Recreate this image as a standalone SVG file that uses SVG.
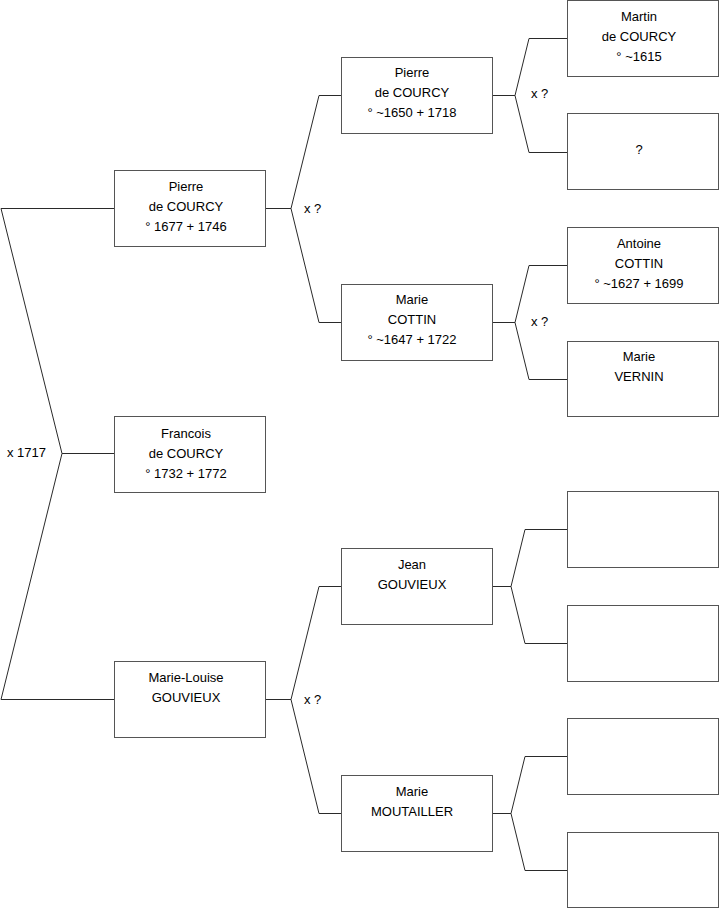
<svg xmlns="http://www.w3.org/2000/svg" width="719" height="908" viewBox="0 0 719 908">
<style>
.box{fill:#fff;stroke:#555;stroke-width:1}
.ln{fill:none;stroke:#2a2a2a;stroke-width:1}
text{font-family:"Liberation Sans",Arial,sans-serif;font-size:13px;fill:#000}
.c{text-anchor:middle}
</style>
<rect width="719" height="908" fill="#fff"/>
<g id="connectors">
<polyline class="ln" points="114,208.5 1,208.5 62,453.5 1,699.5 114,699.5"/>
<line class="ln" x1="62" y1="453.5" x2="114" y2="453.5"/>
<polyline class="ln" points="341,95.5 319,95.5 291,208.5 319,322.5 341,322.5"/>
<line class="ln" x1="265" y1="208.5" x2="291" y2="208.5"/>
<polyline class="ln" points="341,586.5 319,586.5 291,699.5 319,813.5 341,813.5"/>
<line class="ln" x1="265" y1="699.5" x2="291" y2="699.5"/>
<polyline class="ln" points="567,38.5 529,38.5 515,95.5 529,152.5 567,152.5"/>
<line class="ln" x1="492" y1="95.5" x2="515" y2="95.5"/>
<polyline class="ln" points="567,265.5 529,265.5 515,322.5 529,379.5 567,379.5"/>
<line class="ln" x1="492" y1="322.5" x2="515" y2="322.5"/>
<polyline class="ln" points="567,529.5 525,529.5 511,586.5 525,643.5 567,643.5"/>
<line class="ln" x1="492" y1="586.5" x2="511" y2="586.5"/>
<polyline class="ln" points="567,756.5 525,756.5 511,813.5 525,870.5 567,870.5"/>
<line class="ln" x1="492" y1="813.5" x2="511" y2="813.5"/>
<text x="7" y="457">x 1717</text>
<text x="304" y="212.5">x ?</text>
<text x="304" y="703.5">x ?</text>
<text x="531" y="97.5">x ?</text>
<text x="531" y="325.5">x ?</text>
</g>
<g id="pierre-1677">
<rect class="box" x="114.5" y="170.5" width="151" height="76"/>
<text class="c" x="186" y="190.7">Pierre</text>
<text class="c" x="186" y="210.7">de COURCY</text>
<text class="c" x="186" y="230.7">° 1677 + 1746</text>
</g>
<g id="francois">
<rect class="box" x="114.5" y="416.5" width="151" height="76"/>
<text class="c" x="186" y="437.7">Francois</text>
<text class="c" x="186" y="457.7">de COURCY</text>
<text class="c" x="186" y="477.7">° 1732 + 1772</text>
</g>
<g id="marie-louise">
<rect class="box" x="114.5" y="661.5" width="151" height="76"/>
<text class="c" x="186" y="681.7">Marie-Louise</text>
<text class="c" x="186" y="701.7">GOUVIEUX</text>
</g>
<g id="pierre-1650">
<rect class="box" x="341.5" y="57.5" width="151" height="76"/>
<text class="c" x="412" y="76.7">Pierre</text>
<text class="c" x="412" y="96.7">de COURCY</text>
<text class="c" x="412" y="117.2">° ~1650 + 1718</text>
</g>
<g id="marie-cottin">
<rect class="box" x="341.5" y="284.5" width="151" height="76"/>
<text class="c" x="412" y="303.7">Marie</text>
<text class="c" x="412" y="323.7">COTTIN</text>
<text class="c" x="412" y="343.7">° ~1647 + 1722</text>
</g>
<g id="jean-gouvieux">
<rect class="box" x="341.5" y="548.5" width="151" height="76"/>
<text class="c" x="412" y="568.7">Jean</text>
<text class="c" x="412" y="588.7">GOUVIEUX</text>
</g>
<g id="marie-moutailler">
<rect class="box" x="341.5" y="775.5" width="151" height="76"/>
<text class="c" x="412" y="795.7">Marie</text>
<text class="c" x="412" y="815.7">MOUTAILLER</text>
</g>
<g id="martin">
<rect class="box" x="567.5" y="0.5" width="151" height="76"/>
<text class="c" x="639" y="20.7">Martin</text>
<text class="c" x="639" y="40.7">de COURCY</text>
<text class="c" x="639" y="60.7">° ~1615</text>
</g>
<g id="unknown-1">
<rect class="box" x="567.5" y="113.5" width="151" height="76"/>
<text class="c" x="639" y="153.7">?</text>
</g>
<g id="antoine">
<rect class="box" x="567.5" y="227.5" width="151" height="76"/>
<text class="c" x="639" y="247.7">Antoine</text>
<text class="c" x="639" y="267.7">COTTIN</text>
<text class="c" x="639" y="287.7">° ~1627 + 1699</text>
</g>
<g id="marie-vernin">
<rect class="box" x="567.5" y="341.5" width="151" height="75"/>
<text class="c" x="639" y="360.7">Marie</text>
<text class="c" x="639" y="380.7">VERNIN</text>
</g>
<g id="empty-1"><rect class="box" x="567.5" y="491.5" width="151" height="76"/></g>
<g id="empty-2"><rect class="box" x="567.5" y="605.5" width="151" height="76"/></g>
<g id="empty-3"><rect class="box" x="567.5" y="718.5" width="151" height="76"/></g>
<g id="empty-4"><rect class="box" x="567.5" y="832.5" width="151" height="75"/></g>
</svg>
